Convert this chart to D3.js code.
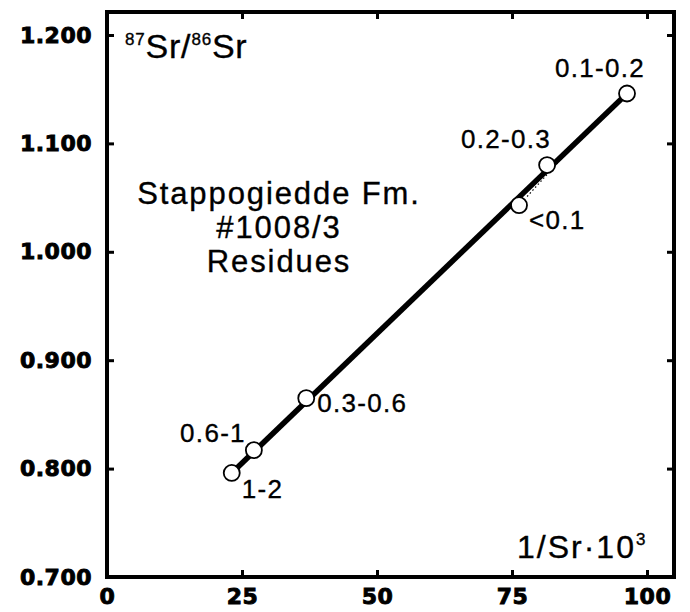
<!DOCTYPE html>
<html>
<head>
<meta charset="utf-8">
<script src="https://cdn.jsdelivr.net/npm/d3@7"></script>
<style>
  html, body { margin: 0; padding: 0; background: #fff; }
  svg { display: block; }
</style>
</head>
<body>
<svg id="chart" width="690" height="612"></svg>
<script>
// ---- data ----
const fractions = ["1-2", "0.6-1", "0.3-0.6", "<0.1", "0.2-0.3", "0.1-0.2"];
const invSr     = [23.1, 27.2, 36.9, 76.3, 81.5, 96.3];
const srRatio   = [0.796, 0.817, 0.865, 1.043, 1.080, 1.146];
const fitX      = [23.1, 96.3];
const fitY      = [0.796, 1.146];
const altFitX   = [77.8, 85.8];
const altFitY   = [1.051, 1.095];
const xTicks    = [0, 25, 50, 75, 100];
const yTicks    = [0.7, 0.8, 0.9, 1.0, 1.1, 1.2];
const yTickLabels = ["0.700", "0.800", "0.900", "1.000", "1.100", "1.200"];
const titleLines = ["Stappogiedde Fm.", "#1008/3", "Residues"];

// ---- layout ----
const svg = d3.select("#chart");
const L = 107, R = 674, T = 12, B = 577;
const x = d3.scaleLinear().domain([0, 105]).range([L, R]);
const y = d3.scaleLinear().domain([0.7, 1.2212]).range([B, T]);

const tickFont = "'DejaVu Sans', sans-serif";
const textFont = "'Liberation Sans', Arial, Helvetica, sans-serif";

// axes (ticks pointing inward)
const yLeft = svg.append("g").attr("transform", `translate(${L},0)`)
  .call(d3.axisLeft(y).tickValues(yTicks).tickFormat((d, i) => yTickLabels[i])
        .tickSizeInner(-7).tickSizeOuter(0).tickPadding(15));
const xBottom = svg.append("g").attr("transform", `translate(0,${B})`)
  .call(d3.axisBottom(x).tickValues(xTicks).tickFormat(d3.format("d"))
        .tickSizeInner(-7).tickSizeOuter(0).tickPadding(11));
const yRight = svg.append("g").attr("transform", `translate(${R},0)`)
  .call(d3.axisRight(y).tickValues(yTicks).tickFormat("").tickSizeInner(-7).tickSizeOuter(0));
const xTop = svg.append("g").attr("transform", `translate(0,${T})`)
  .call(d3.axisTop(x).tickValues(xTicks).tickFormat("").tickSizeInner(-7).tickSizeOuter(0));

[yLeft, xBottom, yRight, xTop].forEach(g => {
  g.select(".domain").remove();
  g.selectAll(".tick line").attr("stroke", "#000").attr("stroke-width", 3);
  g.selectAll(".tick text")
    .attr("fill", "#000")
    .attr("stroke", "#000").attr("stroke-width", 0.9)
    .attr("font-family", tickFont)
    .attr("font-weight", "bold")
    .attr("font-size", 22)
    .attr("letter-spacing", 0.5);
});

// frame
svg.append("rect")
  .attr("x", L).attr("y", T).attr("width", R - L).attr("height", B - T)
  .attr("fill", "none").attr("stroke", "#000").attr("stroke-width", 4);

// fit lines
const line = d3.line().x(d => x(d[0])).y(d => y(d[1]));
svg.append("path")
  .datum(d3.zip(altFitX, altFitY))
  .attr("d", line).attr("fill", "none").attr("stroke", "#000")
  .attr("stroke-width", 1.2).attr("stroke-dasharray", "1.5,2.5");
svg.append("path")
  .datum(d3.zip(fitX, fitY))
  .attr("d", line).attr("fill", "none").attr("stroke", "#000")
  .attr("stroke-width", 5.5);

// points
const pts = fractions.map((f, i) => ({ f, x: invSr[i], y: srRatio[i] }));
svg.append("g").selectAll("circle").data(pts).join("circle")
  .attr("cx", d => x(d.x)).attr("cy", d => y(d.y)).attr("r", 8)
  .attr("fill", "#fff").attr("stroke", "#000").attr("stroke-width", 1.8);

// point labels (offsets relative to each point)
const labelPlace = {
  "1-2":     { dx: 10,  dy: 25,  anchor: "start" },
  "0.6-1":   { dx: -8,  dy: -8,  anchor: "end" },
  "0.3-0.6": { dx: 11,  dy: 14,  anchor: "start" },
  "<0.1":    { dx: 10,  dy: 24,  anchor: "start" },
  "0.2-0.3": { dx: -41, dy: -17, anchor: "middle" },
  "0.1-0.2": { dx: -27, dy: -17, anchor: "middle" }
};
const textStyle = sel => sel
  .attr("font-family", textFont).attr("fill", "#000")
  .attr("stroke", "#000").attr("stroke-width", 0.35);

svg.append("g").selectAll("text").data(pts).join("text")
  .attr("x", d => x(d.x) + labelPlace[d.f].dx)
  .attr("y", d => y(d.y) + labelPlace[d.f].dy)
  .attr("text-anchor", d => labelPlace[d.f].anchor)
  .attr("font-size", 26)
  .attr("letter-spacing", 1.3)
  .call(textStyle)
  .text(d => d.f);

// inner title
svg.append("g").selectAll("text").data(titleLines).join("text")
  .attr("x", 279).attr("y", (d, i) => 204 + i * 34)
  .attr("text-anchor", "middle")
  .attr("font-size", 31)
  .attr("letter-spacing", 1.9)
  .call(textStyle)
  .text(d => d);

// y-axis title 87Sr/86Sr
const yt = svg.append("text").attr("x", 125).attr("y", 58)
  .attr("font-size", 34).attr("letter-spacing", 0.8).call(textStyle);
yt.append("tspan").attr("font-size", 17).attr("dy", -13).text("87");
yt.append("tspan").attr("dy", 13).text("Sr/");
yt.append("tspan").attr("font-size", 17).attr("dy", -13).text("86");
yt.append("tspan").attr("dy", 13).text("Sr");

// x-axis title 1/Sr·10^3
const xt = svg.append("text").attr("x", 517).attr("y", 558)
  .attr("font-size", 32).attr("letter-spacing", 2).call(textStyle);
xt.append("tspan").text("1/Sr\u00B710");
xt.append("tspan").attr("font-size", 17).attr("dy", -13).text("3");
</script>
</body>
</html>
